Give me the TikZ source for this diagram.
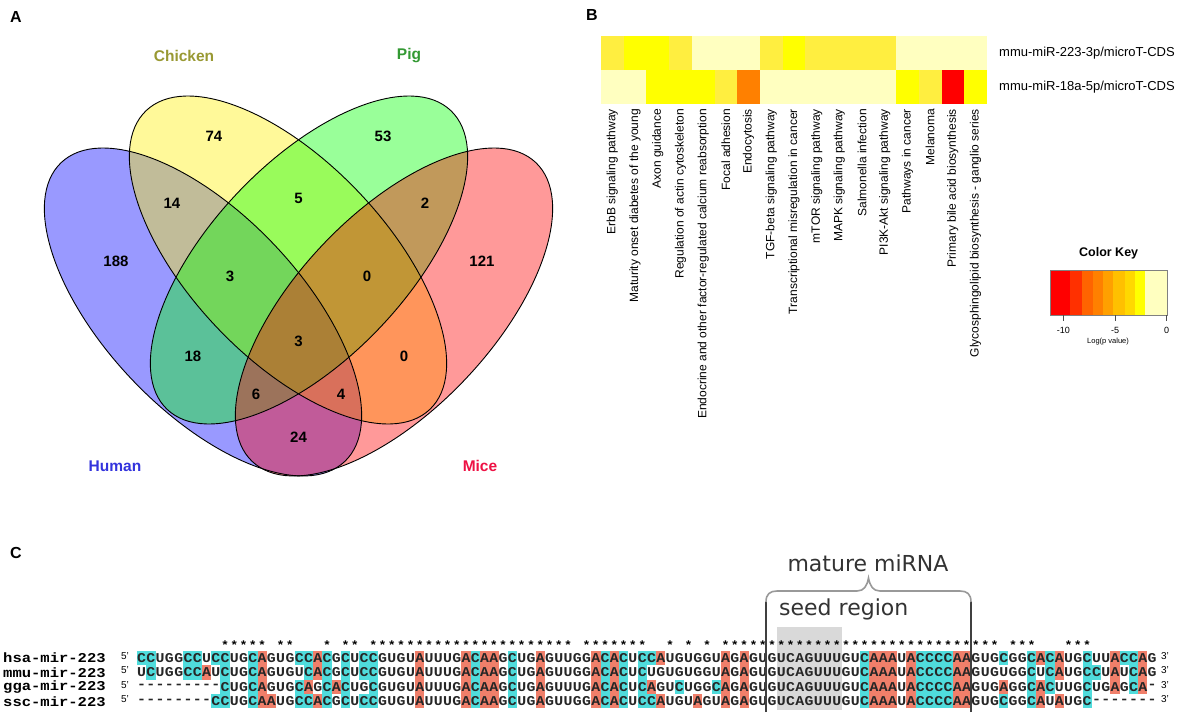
\documentclass[tikz,border=0pt]{standalone}
\usepackage{fontspec}
\setmainfont{Liberation Sans}
\newfontfamily\seqfont[FakeStretch=1.1]{Liberation Mono}
\newfontfamily\namefont[FakeStretch=1.15]{Liberation Mono}
\newfontfamily\notefont{DejaVu Sans}
\usetikzlibrary{positioning}

% heatmap and key colours
\definecolor{hmRed}{HTML}{FF0000}
\definecolor{hmOrange}{HTML}{FF8000}
\definecolor{hmYellow}{HTML}{FFFF00}
\definecolor{hmGold}{HTML}{FFEE40}
\definecolor{hmPale}{HTML}{FFFFC0}
\definecolor{key1}{HTML}{FF0000}
\definecolor{key2}{HTML}{FF3000}
\definecolor{key3}{HTML}{FF6400}
\definecolor{key4}{HTML}{FF8000}
\definecolor{key5}{HTML}{FFA000}
\definecolor{key6}{HTML}{FFC000}
\definecolor{key7}{HTML}{FFD800}
\definecolor{key8}{HTML}{FFFF00}
\definecolor{key9}{HTML}{FFFFC0}
% venn and alignment colours
\definecolor{chickenText}{HTML}{999933}
\definecolor{pigText}{HTML}{339933}
\definecolor{humanText}{HTML}{3333DD}
\definecolor{miceText}{HTML}{EE1144}
\definecolor{baseAcol}{HTML}{F07F6A}
\definecolor{baseCcol}{HTML}{4FDCDC}

\pgfdeclarelayer{shade}
\pgfdeclarelayer{seed}
\pgfsetlayers{shade,seed,main}

\def\seqx{137}
\def\cw{9.27}
\newcount\seqcol
\newcommand{\seqrow}[3]{\seqcol=0\relax\def\rowname{#1}\def\rowy{#2}\readbase#3\relax}
\newcommand{\readbase}[1]{\ifx\relax#1\else\putbase{#1}\expandafter\readbase\fi}
\newcommand{\putbase}[1]{%
  \advance\seqcol by 1\relax
  \pgfmathsetmacro{\bx}{\seqx+(\the\seqcol-0.5)*\cw}%
  \if A#1\begin{pgfonlayer}{shade}\fill[baseA] (\bx-4.64,\rowy-7.2) rectangle (\bx+4.64,\rowy+7.2);\end{pgfonlayer}\fi
  \if C#1\begin{pgfonlayer}{shade}\fill[baseC] (\bx-4.64,\rowy-7.2) rectangle (\bx+4.64,\rowy+7.2);\end{pgfonlayer}\fi
  \node[base] (\rowname-\the\seqcol) at (\bx,\rowy) {#1};}

\tikzset{
  panel/.style={font=\fontsize{16}{16}\selectfont\bfseries, inner sep=0pt},
  vennline/.style={draw=black, line width=0.9pt},
  vennnum/.style={font=\fontsize{15}{15}\selectfont\bfseries},
  vennname/.style={font=\fontsize{15.5}{15.5}\selectfont\bfseries},
  hmlab/.style={rotate=90, anchor=east, font=\fontsize{12}{12}\selectfont, inner sep=0pt},
  hmrow/.style={anchor=west, font=\fontsize{13}{13}\selectfont, inner sep=0pt},
  keytick/.style={font=\fontsize{9}{9}\selectfont, inner sep=0pt},
  base/.style={font=\fontsize{13.5}{13.5}\seqfont\bfseries, text=black!85, inner sep=0pt},
  baseA/.style={fill=baseAcol},
  baseC/.style={fill=baseCcol},
  consmark/.style={font=\fontsize{12}{12}\seqfont\bfseries, inner sep=0pt},
  seqname/.style={anchor=west, font=\fontsize{13.5}{13.5}\namefont\bfseries, inner sep=0pt},
  endmark/.style={font=\fontsize{10}{10}\selectfont, inner sep=0pt},
  note/.style={font=\fontsize{22}{22}\notefont, text=black!80, inner sep=0pt},
  bracketline/.style={draw=black!75, line width=1.4pt},
  bracecurve/.style={draw=black!40, line width=1.6pt},
}

\begin{document}
\begin{tikzpicture}[x=1pt, y=-1pt]
  \useasboundingbox (0,0) rectangle (1192,725);
  \begin{pgfonlayer}{shade}
    \fill[white] (0,0) rectangle (1192,725);
  \end{pgfonlayer}

  % Panel letters
  \node[panel] (panA) at (16,17) {A};
  \node[panel] (panB) at (592,15) {B};
  \node[panel] (panC) at (16,553) {C};

  % Venn diagram
  \foreach \cx/\cy/\ang/\col in {203/312/-46.5/blue, 288/260/-46.5/yellow, 309/260/46.5/green, 394/312/46.5/red}
    \fill[\col, fill opacity=0.4, shift={(\cx,\cy)}, rotate=\ang] (0,0) ellipse [x radius=206, y radius=98];
  \foreach \cx/\cy/\ang in {203/312/-46.5, 288/260/-46.5, 309/260/46.5, 394/312/46.5}
    \draw[vennline, shift={(\cx,\cy)}, rotate=\ang] (0,0) ellipse [x radius=206, y radius=98];

  \node[vennname, text=chickenText] (chicken) at (184,56) {Chicken};
  \node[vennname, text=pigText] (pig) at (409,56) {Pig};
  \node[vennname, text=humanText] (human) at (115,466) {Human};
  \node[vennname, text=miceText] (mice) at (480,466) {Mice};

  \node[vennnum] (onlyChicken) at (214,136) {74};
  \node[vennnum] (onlyPig) at (383,136) {53};
  \node[vennnum] (humChi) at (172,203) {14};
  \node[vennnum] (chiPig) at (298.5,198) {5};
  \node[vennnum] (pigMic) at (425,203) {2};
  \node[vennnum] (onlyHuman) at (116,261) {188};
  \node[vennnum] (humChiPig) at (230,276) {3};
  \node[vennnum] (chiPigMic) at (367,276) {0};
  \node[vennnum] (onlyMice) at (482,261) {121};
  \node[vennnum] (allFour) at (298.5,341) {3};
  \node[vennnum] (humPig) at (193,356) {18};
  \node[vennnum] (chiMic) at (404,356) {0};
  \node[vennnum] (humPigMic) at (256,394) {6};
  \node[vennnum] (humChiMic) at (341,394) {4};
  \node[vennnum] (humMic) at (298.5,437) {24};

  % Heatmap
  \foreach \c [count=\i] in {hmGold,hmYellow,hmYellow,hmGold,hmPale,hmPale,hmPale,hmGold,hmYellow,hmGold,hmGold,hmGold,hmGold,hmPale,hmPale,hmPale,hmPale}
    \fill[\c] ({601+(\i-1)*22.7},36) rectangle ++(22.7,34);
  \foreach \c [count=\i] in {hmPale,hmPale,hmYellow,hmYellow,hmYellow,hmGold,hmOrange,hmPale,hmPale,hmPale,hmPale,hmPale,hmPale,hmYellow,hmGold,hmRed,hmYellow}
    \fill[\c] ({601+(\i-1)*22.7},70) rectangle ++(22.7,34);

  \node[hmrow] (row223) at (999,53) {mmu-miR-223-3p/microT-CDS};
  \node[hmrow] (row18a) at (999,87) {mmu-miR-18a-5p/microT-CDS};

  \foreach \lab [count=\i] in {ErbB signaling pathway, Maturity onset diabetes of the young, Axon guidance, Regulation of actin cytoskeleton, Endocrine and other factor-regulated calcium reabsorption, Focal adhesion, Endocytosis, TGF-beta signaling pathway, Transcriptional misregulation in cancer, mTOR signaling pathway, MAPK signaling pathway, Salmonella infection, PI3K-Akt signaling pathway, Pathways in cancer, Melanoma, Primary bile acid biosynthesis, Glycosphingolipid biosynthesis - ganglio series}
    \node[hmlab] (path\i) at ({601+(\i-0.5)*22.7},109) {\lab};

  % Colour key
  \foreach \xa/\xb [count=\k] in {1050/1070, 1070/1081.7, 1081.7/1093.3, 1093.3/1103.3, 1103.3/1113.3, 1113.3/1125, 1125/1135, 1135/1145, 1145/1166.7}
    \fill[key\k] (\xa,270) rectangle (\xb,315);
  \node[draw=black!50, line width=0.6pt, minimum width=116.7pt, minimum height=45pt, inner sep=0pt, anchor=north west] (keybox) at (1050,270) {};
  \node[font=\fontsize{12.5}{12.5}\selectfont\bfseries, above=7pt of keybox] (keytitle) {Color Key};
  \foreach \t/\lab in {1063.3/-10, 1115/-5, 1166.7/0} {
    \draw[black!70, line width=0.6pt] (\t,315) -- (\t,321);
    \node[keytick] (tick\lab) at (\t,330) {\lab};
  }
  \node[font=\fontsize{7.5}{7.5}\selectfont, inner sep=0pt] (keyaxis) at (1108,342) {Log(p value)};

  % Alignment
  \begin{pgfonlayer}{seed}
    \fill[black!15] (777,627) rectangle (842,710);
  \end{pgfonlayer}
  \foreach \c in {10,11,...,14,16,17,21,23,24,26,27,...,47,49,50,...,55,58,60,62,64,65,...,93,95,96,97,101,102,103}
    \node[consmark] (mark\c) at ({\seqx+(\c-0.5)*\cw},645) {*};

  \node[seqname] (hsaName) at (3,658) {hsa-mir-223};
  \node[seqname] (mmuName) at (3,672.4) {mmu-mir-223};
  \node[seqname] (ggaName) at (3,686.8) {gga-mir-223};
  \node[seqname] (sscName) at (3,701.2) {ssc-mir-223};
  \foreach \r/\y in {hsa/658, mmu/672.4, gga/686.8, ssc/701.2} {
    \node[endmark] (\r5p) at (125,\y-2) {5'};
    \node[endmark] (\r3p) at (1165,\y-2) {3'};
  }
  \seqrow{hsa}{658}{CCUGGCCUCCUGCAGUGCCACGCUCCGUGUAUUUGACAAGCUGAGUUGGACACUCCAUGUGGUAGAGUGUCAGUUUGUCAAAUACCCCAAGUGCGGCACAUGCUUACCAG}
  \seqrow{mmu}{672.4}{UCUGGCCAUCUGCAGUGUCACGCUCCGUGUAUUUGACAAGCUGAGUUGGACACUCUGUGUGGUAGAGUGUCAGUUUGUCAAAUACCCCAAGUGUGGCUCAUGCCUAUCAG}
  \seqrow{gga}{686.8}{---------CUGCAGUGCAGCACUGCGUGUAUUUGACAAGCUGAGUUUGACACUCAGUCUGGCAGAGUGUCAGUUUGUCAAAUACCCCAAGUGAGGCACUUGCUGAGCA-}
  \seqrow{ssc}{701.2}{--------CCUGCAAUGCCACGCUCCGUGUAUUUGACAAGCUGAGUUGGACACUCCAUGUAGUAGAGUGUCAGUUUGUCAAAUACCCCAAGUGCGGCAUAUGC-------}

  % mature miRNA bracket
  \coordinate (matL) at (766,712);
  \coordinate (matR) at (971,712);
  \draw[bracketline] (matL) -- (766,602);
  \draw[bracketline] (matR) -- (971,602);
  \draw[bracecurve] (766,602) .. controls (766,594) and (770,591) .. (777,591) -- (857,591)
    .. controls (864,591) and (867,586) .. (868.5,578) .. controls (870,586) and (873,591) .. (880,591)
    -- (960,591) .. controls (967,591) and (971,594) .. (971,602);
  \node[note] (mature) at (868,563) {mature miRNA};
  \node[note, anchor=west] (seedlab) at (779,609) {seed region};
\end{tikzpicture}
\end{document}
